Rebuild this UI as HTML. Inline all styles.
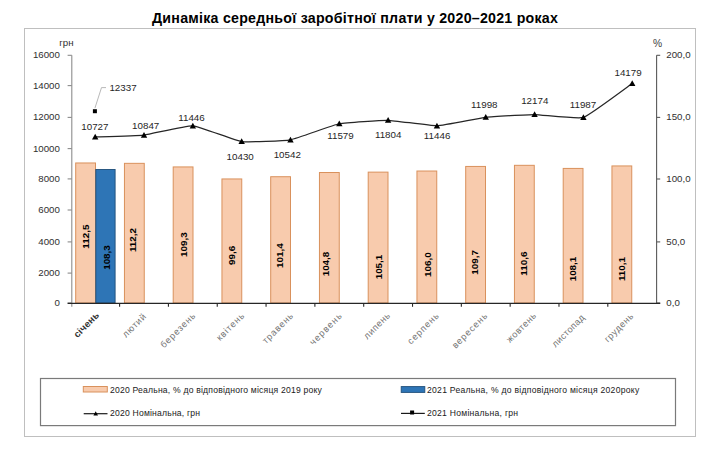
<!DOCTYPE html>
<html><head><meta charset="utf-8"><style>
html,body{margin:0;padding:0;background:#fff;width:720px;height:450px;overflow:hidden}
svg{display:block}
text{font-family:"Liberation Sans",sans-serif}
.ti{font-weight:bold;font-size:14.2px;fill:#000;letter-spacing:0.25px}
.ax{font-size:9.7px;fill:#303030}
.pc{font-size:10.3px;fill:#404040}
.dl{font-size:9.8px;fill:#1f1f1f}
.bl{font-size:9.9px;font-weight:bold;fill:#000}
.xl{font-size:9.2px;fill:#737373;letter-spacing:0.85px}
.xl0{font-size:9.6px;font-weight:bold;fill:#333;letter-spacing:0.2px}
.lg{font-size:8.6px;fill:#1a1a1a;letter-spacing:0.2px}
</style></head><body>
<svg width="720" height="450" viewBox="0 0 720 450">
<rect x="24.5" y="28.5" width="671" height="408" fill="#fff" stroke="#BFBFBF" stroke-width="1"/>
<rect x="75.70" y="162.97" width="19.8" height="140.03" fill="#F8CBAD" stroke="#D9915C" stroke-width="1"/>
<rect x="124.45" y="163.34" width="19.8" height="139.66" fill="#F8CBAD" stroke="#D9915C" stroke-width="1"/>
<rect x="173.20" y="166.93" width="19.8" height="136.07" fill="#F8CBAD" stroke="#D9915C" stroke-width="1"/>
<rect x="221.95" y="178.95" width="19.8" height="124.05" fill="#F8CBAD" stroke="#D9915C" stroke-width="1"/>
<rect x="270.70" y="176.72" width="19.8" height="126.28" fill="#F8CBAD" stroke="#D9915C" stroke-width="1"/>
<rect x="319.45" y="172.51" width="19.8" height="130.49" fill="#F8CBAD" stroke="#D9915C" stroke-width="1"/>
<rect x="368.20" y="172.13" width="19.8" height="130.87" fill="#F8CBAD" stroke="#D9915C" stroke-width="1"/>
<rect x="416.95" y="171.02" width="19.8" height="131.98" fill="#F8CBAD" stroke="#D9915C" stroke-width="1"/>
<rect x="465.70" y="166.44" width="19.8" height="136.56" fill="#F8CBAD" stroke="#D9915C" stroke-width="1"/>
<rect x="514.45" y="165.32" width="19.8" height="137.68" fill="#F8CBAD" stroke="#D9915C" stroke-width="1"/>
<rect x="563.20" y="168.42" width="19.8" height="134.58" fill="#F8CBAD" stroke="#D9915C" stroke-width="1"/>
<rect x="611.95" y="165.94" width="19.8" height="137.06" fill="#F8CBAD" stroke="#D9915C" stroke-width="1"/>
<rect x="95.80" y="169.47" width="19.3" height="133.53" fill="#2E75B6" stroke="#1F4E79" stroke-width="0.9"/>
<line x1="71.8" y1="55.30" x2="71.8" y2="306.8" stroke="#8C8C8C" stroke-width="1.1"/>
<line x1="67.6" y1="303.00" x2="71.8" y2="303.00" stroke="#8C8C8C" stroke-width="1.1"/>
<line x1="67.6" y1="273.10" x2="71.8" y2="273.10" stroke="#8C8C8C" stroke-width="1.1"/>
<line x1="67.6" y1="241.90" x2="71.8" y2="241.90" stroke="#8C8C8C" stroke-width="1.1"/>
<line x1="67.6" y1="210.00" x2="71.8" y2="210.00" stroke="#8C8C8C" stroke-width="1.1"/>
<line x1="67.6" y1="178.90" x2="71.8" y2="178.90" stroke="#8C8C8C" stroke-width="1.1"/>
<line x1="67.6" y1="148.60" x2="71.8" y2="148.60" stroke="#8C8C8C" stroke-width="1.1"/>
<line x1="67.6" y1="117.40" x2="71.8" y2="117.40" stroke="#8C8C8C" stroke-width="1.1"/>
<line x1="67.6" y1="85.60" x2="71.8" y2="85.60" stroke="#8C8C8C" stroke-width="1.1"/>
<line x1="67.6" y1="55.30" x2="71.8" y2="55.30" stroke="#8C8C8C" stroke-width="1.1"/>
<line x1="656.6" y1="55.30" x2="656.6" y2="303.00" stroke="#595959" stroke-width="1.1"/>
<line x1="656.6" y1="303.00" x2="660.2" y2="303.00" stroke="#595959" stroke-width="1.1"/>
<line x1="656.6" y1="241.90" x2="660.2" y2="241.90" stroke="#595959" stroke-width="1.1"/>
<line x1="656.6" y1="179.00" x2="660.2" y2="179.00" stroke="#595959" stroke-width="1.1"/>
<line x1="656.6" y1="117.40" x2="660.2" y2="117.40" stroke="#595959" stroke-width="1.1"/>
<line x1="656.6" y1="55.30" x2="660.2" y2="55.30" stroke="#595959" stroke-width="1.1"/>
<line x1="67.6" y1="303.40" x2="660.2" y2="303.40" stroke="#262626" stroke-width="1.2"/>
<line x1="119.60" y1="303.00" x2="119.60" y2="306.8" stroke="#262626" stroke-width="1.1"/>
<line x1="168.42" y1="303.00" x2="168.42" y2="306.8" stroke="#262626" stroke-width="1.1"/>
<line x1="217.24" y1="303.00" x2="217.24" y2="306.8" stroke="#262626" stroke-width="1.1"/>
<line x1="266.06" y1="303.00" x2="266.06" y2="306.8" stroke="#262626" stroke-width="1.1"/>
<line x1="314.88" y1="303.00" x2="314.88" y2="306.8" stroke="#262626" stroke-width="1.1"/>
<line x1="363.70" y1="303.00" x2="363.70" y2="306.8" stroke="#262626" stroke-width="1.1"/>
<line x1="412.52" y1="303.00" x2="412.52" y2="306.8" stroke="#262626" stroke-width="1.1"/>
<line x1="461.34" y1="303.00" x2="461.34" y2="306.8" stroke="#262626" stroke-width="1.1"/>
<line x1="510.16" y1="303.00" x2="510.16" y2="306.8" stroke="#262626" stroke-width="1.1"/>
<line x1="558.98" y1="303.00" x2="558.98" y2="306.8" stroke="#262626" stroke-width="1.1"/>
<line x1="607.80" y1="303.00" x2="607.80" y2="306.8" stroke="#262626" stroke-width="1.1"/>
<text x="59.9" y="305.90" text-anchor="end" class="ax">0</text>
<text x="59.9" y="276.00" text-anchor="end" class="ax">2000</text>
<text x="59.9" y="244.80" text-anchor="end" class="ax">4000</text>
<text x="59.9" y="212.90" text-anchor="end" class="ax">6000</text>
<text x="59.9" y="181.80" text-anchor="end" class="ax">8000</text>
<text x="59.9" y="151.50" text-anchor="end" class="ax">10000</text>
<text x="59.9" y="120.30" text-anchor="end" class="ax">12000</text>
<text x="59.9" y="88.50" text-anchor="end" class="ax">14000</text>
<text x="59.9" y="58.20" text-anchor="end" class="ax">16000</text>
<text x="666.3" y="305.70" class="ax">0,0</text>
<text x="666.3" y="244.60" class="ax">50,0</text>
<text x="666.3" y="181.70" class="ax">100,0</text>
<text x="666.3" y="120.10" class="ax">150,0</text>
<text x="666.3" y="58.00" class="ax">200,0</text>
<text x="59.3" y="45.6" class="ax">грн</text>
<text x="652.9" y="47.3" class="pc">%</text>
<path d="M95.20,136.93 C98.13,136.82 138.16,135.74 144.02,135.07 C149.88,134.41 186.98,125.41 192.84,125.80 C198.70,126.19 235.80,140.69 241.66,141.53 C247.52,142.37 284.62,140.86 290.48,139.80 C296.34,138.73 333.44,124.91 339.30,123.74 C345.16,122.57 382.26,120.14 388.12,120.26 C393.98,120.38 431.08,125.98 436.94,125.80 C442.80,125.62 479.90,117.93 485.76,117.26 C491.62,116.58 528.72,114.52 534.58,114.53 C540.44,114.54 577.54,119.29 583.40,117.43 C589.26,115.56 629.29,85.53 632.22,83.49" fill="none" stroke="#262626" stroke-width="1.25"/>
<path d="M95.20,133.76 L98.40,139.52 L92.00,139.52Z" fill="#000"/>
<path d="M144.02,131.91 L147.22,137.67 L140.82,137.67Z" fill="#000"/>
<path d="M192.84,122.63 L196.04,128.39 L189.64,128.39Z" fill="#000"/>
<path d="M241.66,138.36 L244.86,144.12 L238.46,144.12Z" fill="#000"/>
<path d="M290.48,136.63 L293.68,142.39 L287.28,142.39Z" fill="#000"/>
<path d="M339.30,120.57 L342.50,126.33 L336.10,126.33Z" fill="#000"/>
<path d="M388.12,117.09 L391.32,122.85 L384.92,122.85Z" fill="#000"/>
<path d="M436.94,122.63 L440.14,128.39 L433.74,128.39Z" fill="#000"/>
<path d="M485.76,114.09 L488.96,119.85 L482.56,119.85Z" fill="#000"/>
<path d="M534.58,111.36 L537.78,117.12 L531.38,117.12Z" fill="#000"/>
<path d="M583.40,114.26 L586.60,120.02 L580.20,120.02Z" fill="#000"/>
<path d="M632.22,80.32 L635.42,86.08 L629.02,86.08Z" fill="#000"/>
<rect x="92.90" y="109.21" width="4" height="4" fill="#000"/>
<path d="M94.90,108.21 L101.5,87.6 L106,87.6" fill="none" stroke="#A6A6A6" stroke-width="0.8"/>
<text x="109.4" y="91" class="dl">12337</text>
<text x="94.90" y="129.80" text-anchor="middle" class="dl">10727</text>
<text x="145.70" y="129.40" text-anchor="middle" class="dl">10847</text>
<text x="191.50" y="121.10" text-anchor="middle" class="dl">11446</text>
<text x="240.20" y="159.70" text-anchor="middle" class="dl">10430</text>
<text x="287.30" y="157.80" text-anchor="middle" class="dl">10542</text>
<text x="340.50" y="139.40" text-anchor="middle" class="dl">11579</text>
<text x="388.20" y="138.10" text-anchor="middle" class="dl">11804</text>
<text x="437.10" y="139.40" text-anchor="middle" class="dl">11446</text>
<text x="484.30" y="107.50" text-anchor="middle" class="dl">11998</text>
<text x="534.80" y="104.40" text-anchor="middle" class="dl">12174</text>
<text x="583.00" y="107.80" text-anchor="middle" class="dl">11987</text>
<text x="628.10" y="75.60" text-anchor="middle" class="dl">14179</text>
<text transform="translate(89.10,236.70) rotate(-90)" text-anchor="middle" class="bl">112,5</text>
<text transform="translate(135.60,240.00) rotate(-90)" text-anchor="middle" class="bl">112,2</text>
<text transform="translate(186.60,244.60) rotate(-90)" text-anchor="middle" class="bl">109,3</text>
<text transform="translate(234.90,255.30) rotate(-90)" text-anchor="middle" class="bl">99,6</text>
<text transform="translate(283.40,255.70) rotate(-90)" text-anchor="middle" class="bl">101,4</text>
<text transform="translate(328.80,264.00) rotate(-90)" text-anchor="middle" class="bl">104,8</text>
<text transform="translate(381.90,267.00) rotate(-90)" text-anchor="middle" class="bl">105,1</text>
<text transform="translate(430.50,264.60) rotate(-90)" text-anchor="middle" class="bl">106,0</text>
<text transform="translate(478.40,262.40) rotate(-90)" text-anchor="middle" class="bl">109,7</text>
<text transform="translate(526.90,263.70) rotate(-90)" text-anchor="middle" class="bl">110,6</text>
<text transform="translate(575.80,269.00) rotate(-90)" text-anchor="middle" class="bl">108,1</text>
<text transform="translate(624.60,269.00) rotate(-90)" text-anchor="middle" class="bl">110,1</text>
<text transform="translate(109.60,257.5) rotate(-90)" text-anchor="middle" class="bl">108,3</text>
<text transform="translate(99.90,315.80) rotate(-45)" text-anchor="end" class="xl0">січень</text>
<text transform="translate(147.00,317.00) rotate(-45)" text-anchor="end" class="xl" style="letter-spacing:0.63px">лютий</text>
<text transform="translate(196.60,315.90) rotate(-45)" text-anchor="end" class="xl" style="letter-spacing:0.85px">березень</text>
<text transform="translate(245.40,315.90) rotate(-45)" text-anchor="end" class="xl" style="letter-spacing:0.85px">квітень</text>
<text transform="translate(294.30,315.90) rotate(-45)" text-anchor="end" class="xl" style="letter-spacing:0.85px">травень</text>
<text transform="translate(343.20,315.90) rotate(-45)" text-anchor="end" class="xl" style="letter-spacing:1.07px">червень</text>
<text transform="translate(391.00,315.90) rotate(-45)" text-anchor="end" class="xl" style="letter-spacing:0.52px">липень</text>
<text transform="translate(439.90,315.90) rotate(-45)" text-anchor="end" class="xl" style="letter-spacing:0.85px">серпень</text>
<text transform="translate(488.50,316.10) rotate(-45)" text-anchor="end" class="xl" style="letter-spacing:0.85px">вересень</text>
<text transform="translate(537.10,316.10) rotate(-45)" text-anchor="end" class="xl" style="letter-spacing:0.47px">жовтень</text>
<text transform="translate(585.30,318.10) rotate(-45)" text-anchor="end" class="xl" style="letter-spacing:0.29px">листопад</text>
<text transform="translate(634.30,316.50) rotate(-45)" text-anchor="end" class="xl" style="letter-spacing:0.59px">грудень</text>
<rect x="40.5" y="378.5" width="635" height="47.1" fill="none" stroke="#7A7A7A" stroke-width="1.2"/>
<rect x="83.3" y="386.5" width="24" height="5.5" fill="#F8CBAD" stroke="#D9915C" stroke-width="1"/>
<rect x="401.2" y="386.6" width="23.6" height="5.8" fill="#2E75B6" stroke="#1F4E79" stroke-width="0.9"/>
<line x1="83.7" y1="413.7" x2="107.5" y2="413.7" stroke="#1a1a1a" stroke-width="1.2"/>
<path d="M95.70,411.32 L98.00,415.46 L93.40,415.46Z" fill="#000"/>
<line x1="401" y1="413.4" x2="424.8" y2="413.4" stroke="#1a1a1a" stroke-width="1.2"/>
<rect x="410.1" y="410.5" width="4" height="4" fill="#000"/>
<text x="110" y="392.6" class="lg">2020 Реальна, % до відповідного місяця 2019 року</text>
<text x="110" y="415.8" class="lg">2020 Номінальна, грн</text>
<text x="427" y="392.6" class="lg" style="letter-spacing:0.265px">2021 Реальна, % до відповідного місяця 2020року</text>
<text x="427" y="415.8" class="lg" style="letter-spacing:0.25px">2021 Номінальна, грн</text>
<text x="152" y="22.6" class="ti">Динаміка середньої заробітної плати у 2020–2021 роках</text>
</svg>
</body></html>
